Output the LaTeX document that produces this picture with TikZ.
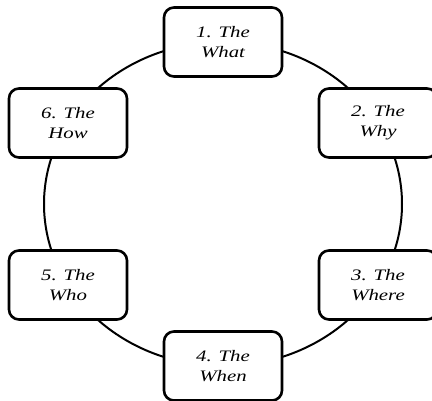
\documentclass[tikz,border=0pt]{standalone}
\usepackage{fontspec}
\newfontfamily\boxfont{Liberation Serif Italic}[FakeStretch=1.3]
\usepackage{tikz}
\usetikzlibrary{calc}

\begin{document}
\begin{tikzpicture}[x=1pt,y=1pt,semithick]
  \tikzstyle{question}=[rectangle,rounded corners=10pt,
                                    line width=2.6pt,
                                    minimum width=118pt,
                                    minimum height=69pt,
                                    draw=black,
                                    fill=white,
                                    align=center,
                                    font=\boxfont\fontsize{16}{20}\selectfont]
  \tikzstyle{ring}=[line width=2pt,draw=black]
  \useasboundingbox (0,0) rectangle (432,400);
  %Centro del anillo
  \coordinate (C) at (223,196);
  \draw[ring] (C) ellipse [x radius=179, y radius=162];
  %Nodos
  \node[question] (What)  at ($(C)+(90:179 and 162)$)  {1. The\\What};
  \node[question] (Why)   at ($(C)+(30:179 and 162)$)  {2. The\\Why};
  \node[question] (Where) at ($(C)+(-30:179 and 162)$) {3. The\\Where};
  \node[question] (When)  at ($(C)+(-90:179 and 162)$) {4. The\\When};
  \node[question] (Who)   at ($(C)+(210:179 and 162)$) {5. The\\Who};
  \node[question] (How)   at ($(C)+(150:179 and 162)$) {6. The\\How};
\end{tikzpicture}
\end{document}
